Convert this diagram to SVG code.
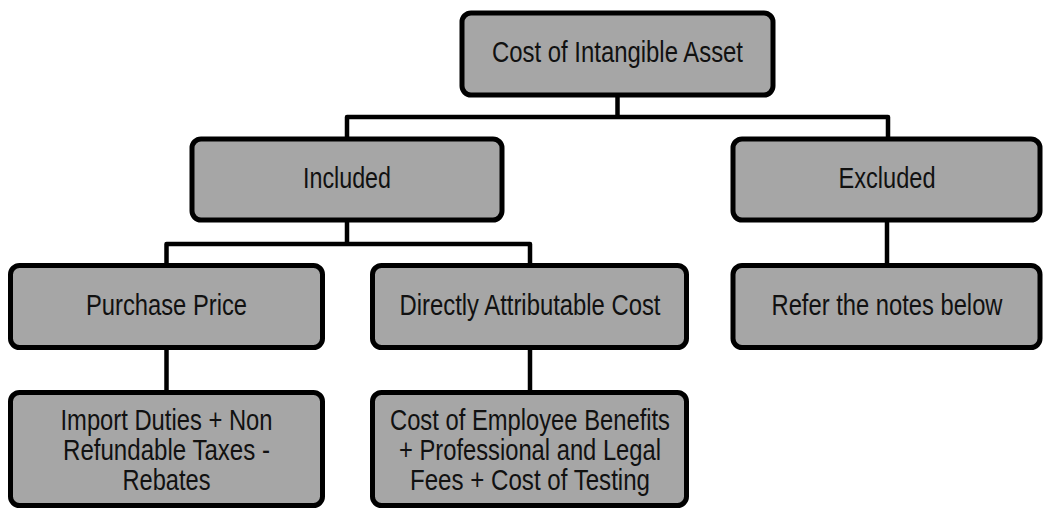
<svg xmlns="http://www.w3.org/2000/svg" width="1043" height="510" viewBox="0 0 1043 510">
<style>
.box{fill:#a6a6a6;stroke:#000;stroke-width:5}
.lbl{font-family:"Liberation Sans Narrow","Arial Narrow","Liberation Sans",Arial,sans-serif;font-size:29px;fill:#111;text-anchor:middle}
.conn{fill:none;stroke:#000;stroke-width:4.5;stroke-linejoin:round}
</style>
<rect width="1043" height="510" fill="#fff"/>
<g id="connectors">
<path class="conn" d="M617.5 96 V117 M347 137 V117 H888 V137"/>
<path class="conn" d="M347 221 V244 M166.5 263 V244 H530 V263"/>
<path class="conn" d="M166.5 349 V391"/>
<path class="conn" d="M530 349 V391"/>
<path class="conn" d="M887 221 V264"/>
</g>
<g id="n-cost">
<rect class="box" x="462" y="13" width="311" height="82" rx="9"/>
<text class="lbl" x="617.5" y="62" textLength="251" lengthAdjust="spacingAndGlyphs">Cost of Intangible Asset</text>
</g>
<g id="n-included">
<rect class="box" x="192" y="139" width="310" height="81" rx="9"/>
<text class="lbl" x="347" y="188" textLength="88" lengthAdjust="spacingAndGlyphs">Included</text>
</g>
<g id="n-excluded">
<rect class="box" x="733" y="139" width="307" height="81" rx="9"/>
<text class="lbl" x="887" y="188" textLength="97" lengthAdjust="spacingAndGlyphs">Excluded</text>
</g>
<g id="n-purchase">
<rect class="box" x="10.5" y="265.5" width="312" height="82" rx="9"/>
<text class="lbl" x="166.5" y="315" textLength="161" lengthAdjust="spacingAndGlyphs">Purchase Price</text>
</g>
<g id="n-directly">
<rect class="box" x="372.5" y="265.5" width="314" height="82" rx="9"/>
<text class="lbl" x="530" y="315" textLength="261" lengthAdjust="spacingAndGlyphs">Directly Attributable Cost</text>
</g>
<g id="n-refer">
<rect class="box" x="733" y="265.5" width="307" height="82" rx="9"/>
<text class="lbl" x="887" y="315" textLength="231" lengthAdjust="spacingAndGlyphs">Refer the notes below</text>
</g>
<g id="n-import">
<rect class="box" x="10.5" y="392.5" width="312" height="113" rx="9"/>
<text class="lbl" x="166.5" y="430" textLength="212" lengthAdjust="spacingAndGlyphs">Import Duties + Non</text>
<text class="lbl" x="166.5" y="460" textLength="207" lengthAdjust="spacingAndGlyphs">Refundable Taxes -</text>
<text class="lbl" x="166.5" y="490" textLength="88" lengthAdjust="spacingAndGlyphs">Rebates</text>
</g>
<g id="n-employee">
<rect class="box" x="372.5" y="392.5" width="314" height="113" rx="9"/>
<text class="lbl" x="530" y="430" textLength="280" lengthAdjust="spacingAndGlyphs">Cost of Employee Benefits</text>
<text class="lbl" x="530" y="460" textLength="262" lengthAdjust="spacingAndGlyphs">+ Professional and Legal</text>
<text class="lbl" x="530" y="490" textLength="240" lengthAdjust="spacingAndGlyphs">Fees + Cost of Testing</text>
</g>
</svg>
